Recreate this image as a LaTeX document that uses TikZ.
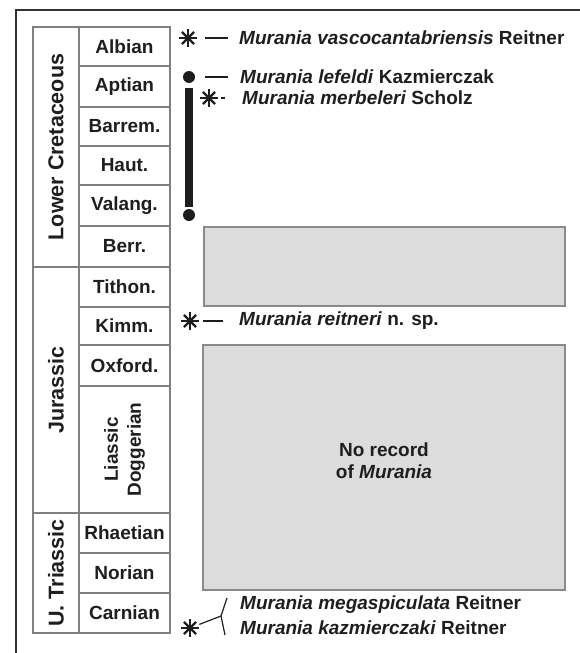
\documentclass[tikz,border=0pt]{standalone}
\usepackage{fontspec}
\setmainfont{Liberation Sans}
\definecolor{ink}{HTML}{1E1E1E}
\definecolor{rule}{HTML}{808080}
\definecolor{boxfill}{HTML}{DCDCDC}
\definecolor{boxline}{HTML}{8A8A8A}
\definecolor{frame}{HTML}{333333}
\tikzset{
  cell/.style={draw=rule, line width=1.2pt, inner sep=0pt, minimum width=91, text=ink,
    font=\fontsize{19}{22}\selectfont\bfseries},
  period/.style={draw=rule, line width=1.2pt, inner sep=0pt, rotate=90, minimum height=46, text=ink,
    font=\fontsize{21.5}{24}\selectfont\bfseries},
  gapbox/.style={draw=boxline, fill=boxfill, line width=1.4pt, inner sep=0pt},
  species/.style={anchor=west, inner sep=0pt, text=ink, font=\fontsize{19}{22}\selectfont\bfseries},
  astk/.style={rectangle, minimum size=24, inner sep=0pt,
    path picture={\foreach \a in {0,45,90,135}
      \draw[line width=2.3pt, ink] ([shift={(\a:8.6)}]path picture bounding box.center) -- ([shift={(\a+180:8.6)}]path picture bounding box.center);}},
  dot/.style={circle, fill=ink, minimum size=12, inner sep=0pt},
  tick/.style={draw=ink, line width=1.2pt},
}
\begin{document}
\begin{tikzpicture}[x=1pt, y=-1pt]
\useasboundingbox (0,0) rectangle (580,653);
% frame
\coordinate (ftl) at (16,10);
\coordinate (ftr) at (580,10);
\coordinate (fbl) at (16,653);
\draw[frame, line width=2pt] (fbl) -- (ftl) -- (ftr);
% periods
\node[period, minimum width=240] (lcr) at (56,147) {Lower Cretaceous};
\node[period, minimum width=246] (jur) at (56,390) {Jurassic};
\node[period, minimum width=120] (utr) at (56,573) {U. Triassic};
% stages
\node[cell, minimum height=39] (alb) at (124.5,46.5) {Albian};
\node[cell, minimum height=41] (apt) at (124.5,86.5) {Aptian};
\node[cell, minimum height=39] (bar) at (124.5,126.5) {Barrem.};
\node[cell, minimum height=39] (hau) at (124.5,165.5) {Haut.};
\node[cell, minimum height=41] (val) at (124.5,205.5) {Valang.};
\node[cell, minimum height=41] (ber) at (124.5,246.5) {Berr.};
\node[cell, minimum height=40] (tit) at (124.5,287) {Tithon.};
\node[cell, minimum height=38] (kim) at (124.5,326) {Kimm.};
\node[cell, minimum height=41] (oxf) at (124.5,365.5) {Oxford.};
\node[cell, minimum height=127] (lia) at (124.5,449.5) {};
\node[rotate=90, align=center, inner sep=0pt, text=ink, font=\fontsize{19}{23}\selectfont\bfseries] (liat) at (lia) {Liassic\\Doggerian};
\node[cell, minimum height=40] (rha) at (124.5,533) {Rhaetian};
\node[cell, minimum height=40] (nor) at (124.5,573) {Norian};
\node[cell, minimum height=40] (car) at (124.5,613) {Carnian};
% gap boxes
\node[gapbox, minimum width=361, minimum height=79] (gap1) at (384.5,266.5) {};
\node[gapbox, minimum width=362, minimum height=245] (gap2) at (384,467.5) {};
\node[align=center, inner sep=0pt, text=ink, font=\fontsize{19}{22}\selectfont\bfseries] (norec) at (384,461) {No record\\of \textit{Murania}};
% species
\node[species] (sp1) at (239,38) {\textit{Murania vascocantabriensis} Reitner};
\node[species] (sp2) at (240,77) {\textit{Murania lefeldi} Kazmierczak};
\node[species] (sp3) at (242,98) {\textit{Murania merbeleri} Scholz};
\node[species] (sp4) at (239,321) {\textit{Murania reitneri} n. sp.};
\node[species] (sp5) at (240,605) {\textit{Murania megaspiculata} Reitner};
\node[species] (sp6) at (240,628) {\textit{Murania kazmierczaki} Reitner};
% markers
\node[astk] (a1) at (188,38) {};
\node[astk] (a3) at (209,98) {};
\node[astk] (a4) at (190,321) {};
\node[astk] (a5) at (190,628) {};
\node[dot] (d1) at (189,77) {};
\node[dot] (d2) at (189,215) {};
% range bar
\draw[ink, line width=8pt] ([yshift=-11]d1.center) -- ([yshift=8]d2.center);
% ticks
\draw[tick, shorten <=17, shorten >=11] (a1.center) -- (sp1.west);
\draw[tick, shorten <=16, shorten >=12] (d1.center) -- (sp2.west);
\draw[tick, shorten <=12, shorten >=17] (a3.center) -- (sp3.west);
\draw[tick, shorten <=13, shorten >=16] (a4.center) -- (sp4.west);
% bracket
\coordinate (br) at (221,616);
\coordinate (brt) at (227,598);
\coordinate (brb) at (225,635);
\draw[tick, shorten <=10] (a5.center) -- (br);
\draw[tick] (brt) -- (br) -- (brb);
\end{tikzpicture}
\end{document}
